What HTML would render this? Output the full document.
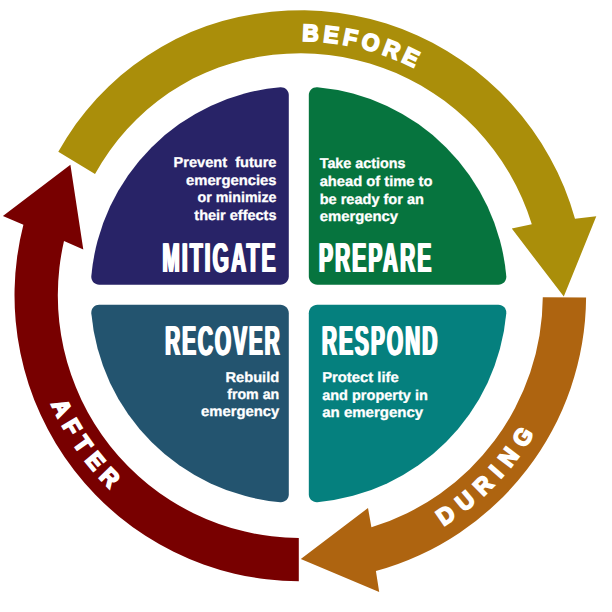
<!DOCTYPE html>
<html><head><meta charset="utf-8"><title>Emergency management cycle</title>
<style>
html,body{margin:0;padding:0;background:#fff;}
svg{display:block}
text{font-family:"Liberation Sans",sans-serif;font-weight:bold;fill:#fff;text-rendering:geometricPrecision}
.h{font-size:41.7px;text-shadow:1.8px 0 0 #fff,-1.8px 0 0 #fff}
.d{font-size:14.3px;white-space:pre;stroke:#fff;stroke-width:0.3px}
.c{font-size:23.5px;stroke:#fff;stroke-width:1.8px;stroke-linejoin:miter}
</style></head><body>
<svg width="612" height="612" viewBox="0 0 612 612">
<rect width="612" height="612" fill="#fff"/>
<path d="M280.3,284.7 L99.2,284.7 C94.5,284.7 91.0,280.9 91.3,276.2 A208.3,208.3 0 0 1 280.3,87.2 C285.0,86.9 288.8,90.4 288.8,95.1 L288.8,276.2 C288.8,280.9 285.0,284.7 280.3,284.7 Z" fill="#282367"/>
<path d="M317.3,284.7 L498.4,284.7 C503.1,284.7 506.6,280.9 506.3,276.2 A208.3,208.3 0 0 0 317.3,87.2 C312.6,86.9 308.8,90.4 308.8,95.1 L308.8,276.2 C308.8,280.9 312.6,284.7 317.3,284.7 Z" fill="#06743e"/>
<path d="M280.3,304.7 L99.2,304.7 C94.5,304.7 91.0,308.5 91.3,313.2 A208.3,208.3 0 0 0 280.3,502.2 C285.0,502.5 288.8,499.0 288.8,494.3 L288.8,313.2 C288.8,308.5 285.0,304.7 280.3,304.7 Z" fill="#23546f"/>
<path d="M317.3,304.7 L498.4,304.7 C503.1,304.7 506.6,308.5 506.3,313.2 A208.3,208.3 0 0 1 317.3,502.2 C312.6,502.5 308.8,499.0 308.8,494.3 L308.8,313.2 C308.8,308.5 312.6,304.7 317.3,304.7 Z" fill="#05807e"/>
<path d="M58.3,151.8 L66.7,137.7 L75.9,124.0 L86.0,111.0 L96.8,98.5 L108.4,86.7 L120.7,75.6 L133.6,65.3 L147.2,55.7 L161.3,47.0 L175.9,39.1 L191.0,32.1 L206.6,26.1 L222.4,21.1 L238.5,17.1 L254.9,13.9 L271.4,11.8 L288.0,10.6 L304.6,10.3 L321.2,11.1 L337.8,12.8 L354.2,15.4 L370.4,19.1 L386.4,23.6 L402.1,29.1 L417.5,35.5 L432.5,42.8 L447.0,50.9 L461.0,59.9 L474.4,69.6 L487.3,80.2 L499.6,91.4 L511.1,103.4 L521.9,116.0 L532.0,129.3 L541.3,143.1 L549.8,157.4 L557.4,172.1 L564.2,187.3 L570.1,202.9 L575.0,218.8 L596.3,216.3 L563.8,296.6 L511.8,228.6 L531.8,224.3 L527.3,211.0 L522.0,198.1 L516.1,185.5 L509.4,173.2 L501.9,161.3 L493.9,149.9 L485.1,139.0 L475.8,128.6 L465.9,118.7 L455.4,109.5 L444.4,100.8 L433.0,92.9 L421.0,85.5 L408.7,78.9 L396.1,73.0 L383.1,67.9 L369.8,63.5 L356.3,59.9 L342.6,57.0 L328.8,55.0 L314.8,53.7 L300.9,53.3 L286.9,53.7 L273.0,54.8 L259.1,56.8 L245.4,59.6 L231.9,63.2 L218.6,67.5 L205.6,72.7 L193.0,78.6 L180.8,85.4 L169.0,92.8 L157.7,101.0 L146.9,109.8 L136.7,119.2 L127.0,129.2 L118.0,139.7 L109.7,150.7 L102.0,162.2 L95.0,174.1 Z" fill="#aa8e0a"/>
<path d="M586.1,297.5 A285.8,285.8 0 0 1 375.9,571.1 L379.2,592.0 L300.8,559.0 L368.0,508.0 L371.4,527.3 A242.5,242.5 0 0 0 542.8,297.2 Z" fill="#ae6410"/>
<path d="M298.8,581.3 A285.8,285.8 0 0 1 23.4,224.8 L2.9,216.0 L70.4,164.8 L83.3,249.4 L64.0,241.1 A242.5,242.5 0 0 0 298.8,538.0 Z" fill="#780000"/>
<path id="pb" d="M213.3,56.3 A254.5,254.5 0 0 1 520.7,168.2" fill="none"/>
<path id="pa" d="M28.8,295.5 A271.5,271.5 0 0 0 253.2,562.9" fill="none"/>
<path id="pd" d="M300.3,567.0 A271.5,271.5 0 0 0 570.8,319.2" fill="none"/>
<text class="c" style="letter-spacing:4.43px"><textPath href="#pb" startOffset="90.4" textLength="120.8" lengthAdjust="spacingAndGlyphs">BEFORE</textPath></text>
<text class="c" style="letter-spacing:7.22px"><textPath href="#pa" startOffset="111.4" textLength="111.0" lengthAdjust="spacingAndGlyphs">AFTER</textPath></text>
<text class="c" style="letter-spacing:8.45px"><textPath href="#pd" startOffset="150.7" textLength="139.1" lengthAdjust="spacingAndGlyphs">DURING</textPath></text>
<text class="h" transform="translate(162.3,272.1) scale(0.500,1)" textLength="226.4" lengthAdjust="spacing">MITIGATE</text>
<text class="h" transform="translate(319.0,272.1) scale(0.500,1)" textLength="224.4" lengthAdjust="spacing">PREPARE</text>
<text class="h" transform="translate(165.2,355.0) scale(0.500,1)" textLength="229.0" lengthAdjust="spacing">RECOVER</text>
<text class="h" transform="translate(321.9,355.0) scale(0.500,1)" textLength="230.8" lengthAdjust="spacing">RESPOND</text>
<text class="d" x="173.5" y="167.3" textLength="103.0" lengthAdjust="spacingAndGlyphs">Prevent  future</text>
<text class="d" x="186.0" y="184.9" textLength="90.5" lengthAdjust="spacingAndGlyphs">emergencies</text>
<text class="d" x="197.5" y="202.4" textLength="79.0" lengthAdjust="spacingAndGlyphs">or minimize</text>
<text class="d" x="194.3" y="219.8" textLength="82.2" lengthAdjust="spacingAndGlyphs">their effects</text>
<text class="d" x="319.7" y="167.5" textLength="85.8" lengthAdjust="spacingAndGlyphs">Take actions</text>
<text class="d" x="319.7" y="186.1" textLength="112.8" lengthAdjust="spacingAndGlyphs">ahead of time to</text>
<text class="d" x="319.7" y="203.9" textLength="104.2" lengthAdjust="spacingAndGlyphs">be ready for an</text>
<text class="d" x="319.7" y="221.1" textLength="78.4" lengthAdjust="spacingAndGlyphs">emergency</text>
<text class="d" x="225.5" y="382.1" textLength="53.7" lengthAdjust="spacingAndGlyphs">Rebuild</text>
<text class="d" x="227.2" y="399.3" textLength="52.0" lengthAdjust="spacingAndGlyphs">from an</text>
<text class="d" x="201.0" y="416.4" textLength="78.2" lengthAdjust="spacingAndGlyphs">emergency</text>
<text class="d" x="322.2" y="382.1" textLength="76.5" lengthAdjust="spacingAndGlyphs">Protect life</text>
<text class="d" x="322.2" y="399.5" textLength="105.6" lengthAdjust="spacingAndGlyphs">and property in</text>
<text class="d" x="322.2" y="416.8" textLength="101.0" lengthAdjust="spacingAndGlyphs">an emergency</text>
</svg>
</body></html>
